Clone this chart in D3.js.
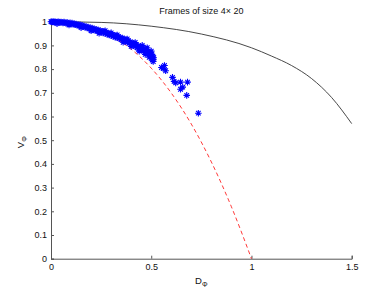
<!DOCTYPE html>
<html>
<head>
<meta charset="utf-8">
<script src="https://cdn.jsdelivr.net/npm/d3@7"></script>
<style>
  body { margin: 0; background: #fff; }
  svg { font-family: "Liberation Sans", Arial, sans-serif; }
</style>
</head>
<body>
<div id="chart"></div>
<script>
var W = 389, H = 292;
var margin = { left: 51, right: 37.3, top: 21.7, bottom: 33.3 };

// data
var xTicks = [0, 0.5, 1, 1.5];
var yTicks = [0, 0.1, 0.2, 0.3, 0.4, 0.5, 0.6, 0.7, 0.8, 0.9, 1];

// black solid bound
var boundD = [0, 0.25, 0.5, 0.75, 1.0, 1.1, 1.2, 1.3, 1.4, 1.5];
var boundV = [1, 0.997, 0.981, 0.948, 0.89, 0.855, 0.815, 0.76, 0.68, 0.57];

// red dashed bound
var dashD = [0, 0.1, 0.2, 0.3, 0.4, 0.5, 0.6, 0.7, 0.8, 0.9, 1.0];
var dashV = [1, 0.995, 0.977, 0.941, 0.884, 0.804, 0.699, 0.568, 0.408, 0.219, 0];

// frames (D, V)
var frames = [
  [0,1],[0.004,1],[0.008,0.999],[0.012,1],[0.016,0.998],[0.02,1],[0.025,0.999],[0.03,0.997],
  [0.035,1],[0.04,0.998],[0.045,0.996],[0.05,0.999],[0.055,0.997],[0.06,0.995],[0.065,0.998],
  [0.07,0.996],[0.075,0.993],[0.08,0.997],[0.085,0.994],[0.09,0.992],[0.095,0.995],[0.1,0.991],
  [0.105,0.994],[0.11,0.989],[0.115,0.992],[0.12,0.987],[0.125,0.99],[0.13,0.985],[0.135,0.988],
  [0.14,0.983],[0.145,0.987],[0.15,0.981],[0.155,0.985],[0.16,0.979],[0.165,0.982],[0.17,0.976],
  [0.175,0.98],[0.18,0.974],[0.185,0.977],[0.19,0.971],[0.195,0.975],[0.2,0.969],[0.205,0.973],
  [0.21,0.966],[0.215,0.97],[0.22,0.963],[0.225,0.968],[0.23,0.961],[0.235,0.965],[0.24,0.958],
  [0.245,0.963],[0.25,0.956],[0.255,0.96],[0.26,0.953],[0.265,0.958],[0.27,0.95],[0.275,0.955],
  [0.28,0.947],[0.285,0.952],[0.29,0.944],[0.295,0.949],[0.3,0.941],[0.305,0.946],[0.31,0.938],
  [0.315,0.943],[0.32,0.935],[0.325,0.94],[0.33,0.932],[0.335,0.937],[0.34,0.929],[0.345,0.934],
  [0.35,0.925],[0.355,0.931],[0.36,0.922],[0.365,0.927],[0.37,0.918],[0.375,0.923],[0.38,0.914],
  [0.385,0.92],[0.39,0.91],[0.395,0.915],[0.4,0.905],[0.405,0.911],[0.41,0.9],[0.415,0.906],
  [0.42,0.895],[0.425,0.902],[0.43,0.89],[0.435,0.898],[0.44,0.886],[0.445,0.895],[0.45,0.882],
  [0.455,0.893],[0.46,0.876],[0.465,0.888],[0.47,0.871],[0.475,0.882],[0.48,0.866],[0.485,0.876],
  [0.49,0.86],[0.495,0.869],[0.5,0.853],[0.503,0.862],[0.506,0.847],[0.508,0.855],[0.51,0.84],
  [0.512,0.848],
  [0.03,0.992],[0.09,0.986],[0.15,0.975],[0.2,0.962],[0.24,0.951],[0.27,0.962],[0.3,0.953],
  [0.33,0.944],[0.36,0.913],[0.38,0.927],[0.4,0.896],[0.42,0.912],[0.44,0.876],[0.455,0.9],
  [0.47,0.862],[0.48,0.89],[0.49,0.85],[0.5,0.876],[0.505,0.838],[0.51,0.832],
  [0.551,0.807],[0.56,0.803],[0.566,0.815],[0.572,0.793],[0.606,0.765],[0.614,0.748],
  [0.622,0.742],[0.646,0.745],[0.681,0.745],[0.657,0.724],[0.646,0.715],[0.677,0.689],
  [0.735,0.614]
];

var x = d3.scaleLinear().domain([0, 1.5]).range([margin.left, W - margin.right]);
var y = d3.scaleLinear().domain([0, 1]).range([H - margin.bottom, margin.top]);

var svg = d3.select("#chart").append("svg")
    .attr("width", W)
    .attr("height", H);

// axes, ticks inward
var xAxis = d3.axisBottom(x).tickValues(xTicks).tickSize(-3).tickPadding(5)
    .tickFormat(d3.format("~g"));
var yAxis = d3.axisLeft(y).tickValues(yTicks).tickSize(-3).tickPadding(4)
    .tickFormat(d3.format("~g"));

var gx = svg.append("g")
    .attr("transform", "translate(0," + y(0) + ")")
    .call(xAxis);
var gy = svg.append("g")
    .attr("transform", "translate(" + x(0) + ",0)")
    .call(yAxis);

[gx, gy].forEach(function(g) {
    g.select(".domain").attr("stroke", "#555");
    g.selectAll(".tick line").attr("stroke", "#555");
    g.selectAll("text").attr("fill", "#111").style("font-size", "9px");
});

// curves
var line = d3.line()
    .x(function(d) { return x(d[0]); })
    .y(function(d) { return y(d[1]); })
    .curve(d3.curveMonotoneX);

svg.append("path")
    .datum(boundD.map(function(d, i) { return [d, boundV[i]]; }))
    .attr("d", line)
    .attr("fill", "none")
    .attr("stroke", "#333")
    .attr("stroke-width", 0.9);

svg.append("path")
    .datum(dashD.map(function(d, i) { return [d, dashV[i]]; }))
    .attr("d", line)
    .attr("fill", "none")
    .attr("stroke", "#f22")
    .attr("stroke-width", 0.9)
    .attr("stroke-dasharray", "4,3");

// asterisk markers
var star = "M-3.3,0H3.3M0,-3.3V3.3M-2.3,-2.3L2.3,2.3M-2.3,2.3L2.3,-2.3";
svg.append("g")
    .selectAll("path")
    .data(frames)
    .enter()
    .append("path")
    .attr("transform", function(d) { return "translate(" + x(d[0]) + "," + y(d[1]) + ")"; })
    .attr("d", star)
    .attr("fill", "none")
    .attr("stroke", "#00f")
    .attr("stroke-width", 1.1);

// labels
svg.append("text")
    .attr("x", (x(0) + x(1.5)) / 2)
    .attr("y", 14)
    .attr("text-anchor", "middle")
    .style("font-size", "9px")
    .attr("fill", "#111")
    .text("Frames of size 4\u00d7 20");

var xl = svg.append("text")
    .attr("x", (x(0) + x(1.5)) / 2)
    .attr("y", 284)
    .attr("text-anchor", "middle")
    .style("font-size", "9.5px")
    .attr("fill", "#111");
xl.append("tspan").text("D");
xl.append("tspan").attr("dy", 3).style("font-size", "7px").text("\u03a6");

var yl = svg.append("text")
    .attr("transform", "translate(24," + (y(0.5) + 2) + ") rotate(-90)")
    .attr("text-anchor", "middle")
    .style("font-size", "9.5px")
    .attr("fill", "#111");
yl.append("tspan").text("V");
yl.append("tspan").attr("dy", 3).style("font-size", "7px").text("\u03a6");
</script>
</body>
</html>
